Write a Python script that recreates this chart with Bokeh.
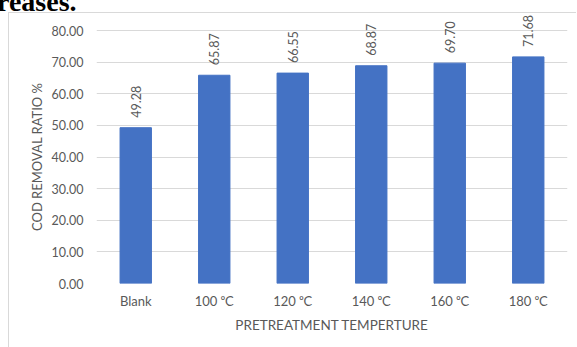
from math import pi

from bokeh.core.properties import value
from bokeh.embed import file_html
from bokeh.layouts import column
from bokeh.models import ColumnDataSource, Div, Range1d
from bokeh.plotting import figure
from bokeh.resources import INLINE

# COD removal ratio by pretreatment temperature
categories = ["Blank", "100 \u2070C", "120 \u2070C", "140 \u2070C", "160 \u2070C", "180 \u2070C"]
removal = [49.28, 65.87, 66.55, 68.87, 69.70, 71.68]
y_ticks = [0, 10, 20, 30, 40, 50, 60, 70, 80]

FONT = "Lato"
GRAY = "#595959"
BORDER = "#d9d9d9"

src = ColumnDataSource(dict(
    cat=categories,
    val=removal,
    lab=[f"{v:.2f}" for v in removal],
))

# headroom above 80 keeps the rotated value labels inside the frame
p = figure(
    x_range=categories,
    y_range=Range1d(0, 85.4),
    width=568,
    height=335,
    output_backend="svg",
    toolbar_location=None,
    min_border_left=87,
    min_border_right=10,
    min_border_top=0,
    min_border_bottom=65,
)
p.margin = (0, 0, 0, 8)
p.styles = {"border-left": f"1px solid {BORDER}", "border-top": f"1px solid {BORDER}"}
p.outline_line_color = None
p.background_fill_color = "white"
p.border_fill_color = "white"

p.vbar(x="cat", top="val", width=0.4, source=src,
       fill_color="#4472C4", line_color="#4472C4")

# value labels, rotated, sitting just above each bar
p.text(x="cat", y="val", text="lab", source=src, angle=pi / 2,
       text_align="left", text_baseline="middle", y_offset=-10,
       text_font=value(FONT), text_font_size="12.5px", text_color=GRAY)

# axes
p.yaxis.ticker = y_ticks
p.yaxis.major_label_overrides = {t: f"{t:.2f}" for t in y_ticks}
for ax in (p.xaxis[0], p.yaxis[0]):
    ax.axis_line_color = None
    ax.major_tick_line_color = None
    ax.minor_tick_line_color = None
    ax.major_label_text_font = FONT
    ax.major_label_text_color = GRAY
    ax.axis_label_text_font = FONT
    ax.axis_label_text_color = GRAY
    ax.axis_label_text_font_style = "normal"

p.yaxis.major_label_text_font_size = "12.5px"
p.yaxis.major_label_standoff = 7
# trailing no-break spaces centre the title on the 0-80 span rather than the padded frame
p.yaxis.axis_label = "COD REMOVAL RATIO %" + "\u00a0" * 5
p.yaxis.axis_label_text_font_size = "13px"
p.yaxis.axis_label_standoff = 4

p.xaxis.major_label_text_font_size = "13px"
p.xaxis.major_label_standoff = 3
p.xaxis.axis_label = "PRETREATMENT TEMPERTURE"
p.xaxis.axis_label_text_font_size = "13.5px"
p.xaxis.axis_label_standoff = 5

p.xgrid.grid_line_color = None
p.ygrid.grid_line_color = BORDER
p.ygrid.grid_line_width = 1

# tail of the surrounding document text above the chart
head = Div(
    text=(
        '<div style="position:relative;width:577px;height:12px;overflow:hidden">'
        '<span style="position:absolute;left:-3px;top:-12px;'
        "font-family:'Liberation Serif';font-weight:bold;font-size:28px;"
        'line-height:28px;color:black;white-space:nowrap">reases.</span></div>'
    ),
    width=577,
    height=12,
    margin=0,
    styles={"overflow": "hidden"},
)

layout = column(head, p, spacing=0, margin=0)

open("out.html", "w").write(file_html(layout, INLINE))
